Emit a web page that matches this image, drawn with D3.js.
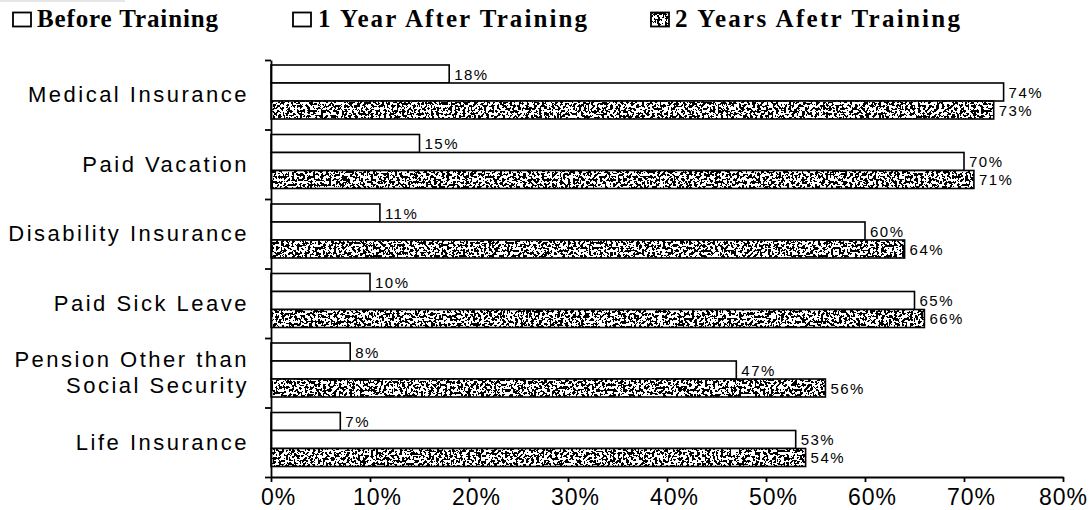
<!DOCTYPE html>
<html><head><meta charset="utf-8">
<script src="https://cdn.jsdelivr.net/npm/d3@7"></script>
<style>body{margin:0;background:#fff;}svg{display:block;}</style>
</head><body>
<svg id="chart" width="1091" height="510"></svg>
<script>
const categories = ["Medical Insurance","Paid Vacation","Disability Insurance","Paid Sick Leave","Pension Other than\nSocial Security","Life Insurance"];
const seriesNames = ["Before Training","1 Year After Training","2 Years Afetr Training"];
const beforeTraining = [18,15,11,10,8,7];
const oneYearAfter = [74,70,60,65,47,53];
const twoYearsAfter = [73,71,64,66,56,54];
const xTicks = [0,10,20,30,40,50,60,70,80];

const series = [beforeTraining, oneYearAfter, twoYearsAfter];
const svg = d3.select("#chart");

const defs = svg.append("defs");
const f = defs.append("filter").attr("id","noise").attr("x","0").attr("y","0").attr("width","1").attr("height","1");
f.append("feTurbulence").attr("type","fractalNoise").attr("baseFrequency","0.38").attr("numOctaves",2).attr("seed",7).attr("result","t");
f.append("feColorMatrix").attr("in","t").attr("type","matrix")
 .attr("values","0 0 0 0 0  0 0 0 0 0  0 0 0 0 0  0 0 0 -3.2 2.05").attr("result","m");
f.append("feComponentTransfer").attr("in","m").attr("result","d")
 .append("feFuncA").attr("type","discrete").attr("tableValues","0 1");
f.append("feFlood").attr("flood-color","#fff").attr("result","w");
f.append("feComposite").attr("in","d").attr("in2","w").attr("operator","over").attr("result","c");
f.append("feComposite").attr("in","c").attr("in2","SourceAlpha").attr("operator","in");

// faint top line
svg.append("line").attr("x1",0).attr("x2",125).attr("y1",1).attr("y2",1).attr("stroke","#ccc").attr("stroke-width",1);

const x = d3.scaleLinear().domain([0,80]).range([271,1063]);
const y0 = d3.scaleBand().domain(d3.range(categories.length)).range([60,477]).padding(0);
const y1 = d3.scaleBand().domain(d3.range(3)).range([5,59]).padding(0);

// bars
const g = svg.append("g");
categories.forEach((c,i)=>{
  series.forEach((s,k)=>{
    const yy = y0(i)+y1(k), h = y1.bandwidth(), w = x(s[i])-x(0);
    if(k===2){
      g.append("rect").attr("x",x(0)).attr("y",yy).attr("width",w).attr("height",h).attr("fill","#000").attr("filter","url(#noise)");
    }
    g.append("rect").attr("x",x(0)).attr("y",yy).attr("width",w).attr("height",h)
      .attr("fill",k===2?"none":"#fff").attr("stroke","#000").attr("stroke-width",1.6);
    g.append("text").attr("x",x(s[i])+5).attr("y",yy+h/2+5.5)
      .attr("font-family","'Liberation Sans',Arial,sans-serif").attr("font-size",15).attr("letter-spacing","1.5px")
      .text(s[i]+"%");
  });
});

// axes
const xAxis = svg.append("g").attr("transform","translate(0,477)")
  .call(d3.axisBottom(x).tickValues(xTicks).tickSize(5).tickSizeOuter(0).tickFormat(d=>d+"%"));
xAxis.select(".domain").attr("stroke","#000").attr("stroke-width",1.8);
xAxis.selectAll(".tick line").attr("stroke","#000").attr("stroke-width",1.8);
xAxis.selectAll(".tick text").attr("font-family","'Liberation Sans',Arial,sans-serif").attr("font-size",23)
  .attr("letter-spacing","1px").attr("fill","#000").attr("dy","0").attr("y",28)
  .attr("dx",d=>d===80?0:7);

const yTickScale = d3.scaleLinear().domain([0,categories.length]).range([60,477]);
const yAxis = svg.append("g").attr("transform","translate(271,0)")
  .call(d3.axisLeft(yTickScale).tickValues(d3.range(categories.length+1)).tickSize(6).tickSizeOuter(0).tickFormat(""));
yAxis.select(".domain").attr("stroke","#000").attr("stroke-width",1.8);
yAxis.selectAll(".tick line").attr("stroke","#000").attr("stroke-width",1.8);

// category labels
categories.forEach((c,i)=>{
  const lines = c.split("\n");
  const cy = y0(i)+y0.bandwidth()/2;
  const t = svg.append("text").attr("text-anchor","end")
    .attr("font-family","'Liberation Sans',Arial,sans-serif").attr("font-size",22).attr("letter-spacing","2.5px");
  lines.forEach((ln,j)=>{
    t.append("tspan").attr("x",249).attr("y",cy+7.5+(j-(lines.length-1)/2)*26).text(ln);
  });
});

// legend
const legIcon = [12,292,650];
const legText = [37,318,675];
const legLen = [181,269,285];
seriesNames.forEach((n,k)=>{
  if(k===2){
    svg.append("rect").attr("x",legIcon[k]).attr("y",12).attr("width",19).attr("height",15).attr("fill","#000").attr("filter","url(#noise)");
  }
  svg.append("rect").attr("x",legIcon[k]+1).attr("y",12.5).attr("width",18).attr("height",14)
    .attr("fill",k===2?"none":"#fff").attr("stroke","#000").attr("stroke-width",1.8);
  svg.append("text").attr("x",legText[k]).attr("y",27)
    .attr("font-family","'Liberation Serif','Times New Roman',serif").attr("font-weight","bold")
    .attr("font-size",25).attr("textLength",legLen[k]).attr("lengthAdjust","spacing").text(n);
});
</script>
</body></html>
